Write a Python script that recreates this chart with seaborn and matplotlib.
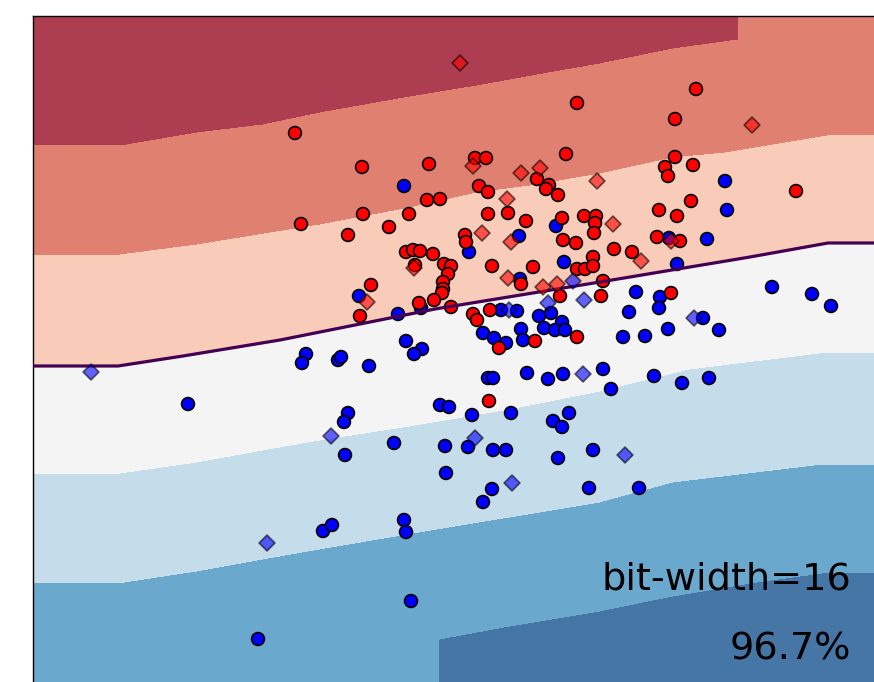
import numpy as np
import pandas as pd
import matplotlib
matplotlib.use("Agg")
import matplotlib.pyplot as plt
import seaborn as sns

# ---------------- data (pixel-space coordinates) -------------
band_colors = ["#AD3E51", "#E08070", "#F8CCB8", "#F4F4F4", "#C5DCEA", "#6BA8CE", "#4676A5"]

b1_x = [33, 127, 197, 263, 320, 410, 477, 543, 600, 673, 738, 740, 874]
b1_y = [145, 145, 133, 125, 113, 97, 86, 74, 64, 49, 40, -100, -100]
b2_x = [33, 120, 197, 320, 410, 477, 530, 600, 673, 725, 827, 874]
b2_y = [255, 255, 245, 225, 208, 193, 186, 174, 158, 153, 136, 135]
b3_x = [33, 118, 183, 280, 320, 435, 600, 750, 828, 874]
b3_y = [366, 366, 356, 340, 332, 309, 282, 257, 243, 243]
b4_x = [33, 120, 197, 263, 320, 410, 510, 600, 690, 828, 874]
b4_y = [474, 474, 463, 451, 441, 427, 410, 392, 370, 353, 353]
b5_x = [33, 125, 197, 280, 320, 443, 510, 600, 673, 823, 874]
b5_y = [583, 583, 572, 557, 550, 529, 518, 503, 483, 465, 465]
b6_x = [33, 438, 440, 510, 600, 673, 757, 830, 874]
b6_y = [900, 900, 640, 627, 612, 597, 583, 573, 573]

red_x = [577, 696, 295, 675, 566, 475, 486, 429, 362, 665, 675, 693, 668, 479, 488, 537,
         549, 546, 558, 427, 440, 796, 691, 301, 363, 409, 389, 348, 488, 508, 526, 562,
         584, 596, 595, 594, 659, 677, 465, 466, 563, 576, 614, 632, 657, 680, 406, 413,
         420, 433, 593, 444, 451, 415, 448, 443, 443, 442, 434, 419, 371, 360, 492, 533,
         577, 585, 593, 521, 603, 601, 560, 451, 473, 477, 490, 499, 535, 577, 671, 489]
red_y = [103, 89, 133, 119, 154, 158, 158, 164, 167, 167, 157, 165, 176, 186, 192, 179,
         185, 189, 195, 200, 199, 191, 201, 224, 214, 214, 227, 235, 214, 213, 221, 218,
         216, 216, 223, 233, 210, 216, 235, 242, 240, 243, 249, 252, 237, 241, 252, 250,
         251, 254, 257, 264, 266, 265, 274, 282, 289, 293, 300, 303, 285, 316, 266, 267,
         269, 269, 266, 284, 281, 296, 296, 307, 314, 320, 310, 348, 341, 337, 293, 401]

blue_x = [404, 725, 727, 556, 519, 707, 669, 469, 564, 677, 520, 359, 398, 421, 501, 517,
          483, 494, 506, 521, 523, 539, 551, 562, 544, 555, 565, 636, 660, 659, 629, 703,
          668, 719, 623, 645, 772, 812, 831, 406, 422, 414, 306, 302, 338, 341, 369, 188,
          488, 493, 527, 548, 563, 603, 654, 682, 709, 611, 440, 449, 472, 511, 348, 344,
          394, 445, 468, 493, 506, 553, 562, 569, 558, 593, 345, 446, 492, 483, 589, 639,
          323, 332, 404, 406, 411, 258]
blue_y = [186, 181, 210, 226, 236, 239, 238, 252, 262, 264, 279, 296, 314, 308, 310, 311,
          333, 338, 343, 329, 340, 316, 313, 322, 328, 330, 330, 292, 297, 308, 312, 318,
          329, 330, 337, 336, 287, 294, 306, 341, 349, 354, 354, 363, 360, 357, 366, 404,
          378, 378, 373, 379, 374, 369, 376, 383, 378, 389, 405, 407, 415, 413, 413, 422,
          443, 446, 447, 450, 450, 421, 427, 413, 458, 450, 455, 473, 489, 502, 488, 488,
          531, 525, 520, 532, 601, 639]

red_test_x = [460, 752, 473, 521, 540, 597, 507, 613, 482, 511, 641, 671, 414, 367, 508, 543, 557]
red_test_y = [63, 125, 166, 173, 168, 181, 199, 224, 233, 242, 261, 241, 268, 302, 278, 287, 284]
blue_test_x = [573, 584, 548, 509, 91, 694, 583, 331, 475, 512, 625, 267]
blue_test_y = [281, 300, 303, 310, 372, 318, 374, 436, 438, 483, 455, 543]

label_1 = "bit-width=16"
label_2 = "96.7%"

# ---------------- figure ---------------------------------------------------------------
sns.set_theme(style="white")
fig = plt.figure(figsize=(8.74, 6.82), dpi=100)
ax = fig.add_axes([33 / 874, 0, 841 / 874, 666 / 682])

gx = np.arange(33, 875, 1.0)
gy = np.arange(16, 683, 1.0)
bounds = [(b1_x, b1_y), (b2_x, b2_y), (b3_x, b3_y), (b4_x, b4_y), (b5_x, b5_y), (b6_x, b6_y)]
B = np.stack([np.interp(gx, bx, by) for bx, by in bounds])
band_vals = np.arange(len(bounds)) + 0.5
Z = np.empty((len(gy), len(gx)))
for j in range(len(gx)):
    Z[:, j] = np.interp(gy, np.r_[-1e4, B[:, j], 1e4], np.r_[-1000, band_vals, 1000])

levels = np.r_[-1000, band_vals, 1000]
ax.contourf(gx, gy, Z, levels=levels, colors=band_colors, zorder=0)

train = pd.DataFrame({"x": blue_x + red_x, "y": blue_y + red_y,
                      "cls": ["b"] * len(blue_x) + ["r"] * len(red_x)})
sns.scatterplot(data=train, x="x", y="y", hue="cls", palette={"r": "#FF0000", "b": "#0000FF"},
                marker="o", s=85, edgecolor="black", linewidth=1.2, legend=False, ax=ax, zorder=2)

ax.contour(gx, gy, Z, levels=[2.5], colors=["#440154"], linewidths=2.3, zorder=3)

test = pd.DataFrame({"x": red_test_x + blue_test_x, "y": red_test_y + blue_test_y,
                     "cls": ["r"] * len(red_test_x) + ["b"] * len(blue_test_x)})
sns.scatterplot(data=test, x="x", y="y", hue="cls", palette={"r": "#FF0000", "b": "#0000FF"},
                marker="D", s=65, edgecolor="black", linewidth=1.2, alpha=0.6, legend=False,
                ax=ax, zorder=4)

ax.text(851, 589, label_1, ha="right", va="baseline", fontsize=27.5, color="black", zorder=5)
ax.text(851, 659, label_2, ha="right", va="baseline", fontsize=27.5, color="black", zorder=5)

ax.set_xlim(33, 874)
ax.set_ylim(682, 16)
ax.set_xticks([])
ax.set_yticks([])
ax.set_xlabel("")
ax.set_ylabel("")
for side in ["right", "bottom"]:
    ax.spines[side].set_visible(False)
for side in ["left", "top"]:
    ax.spines[side].set_color("black")
    ax.spines[side].set_linewidth(1.0)

fig.savefig("out.png", dpi=100)
